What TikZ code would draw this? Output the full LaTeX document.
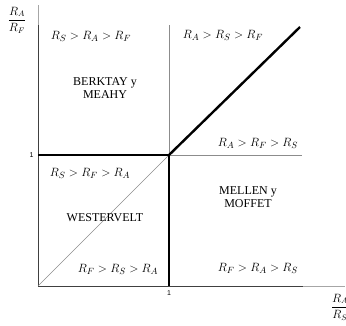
\documentclass[tikz,border=0pt]{standalone}
\usepackage{amsmath}
\usepackage{fontspec}
\setmainfont{Liberation Serif}
\setsansfont{Liberation Sans}
\usetikzlibrary{positioning, calc}
\definecolor{AxisGray}{HTML}{A6A6A6}
\definecolor{GridGray}{HTML}{8C8C8C}

\begin{document}
\begin{tikzpicture}[x=1pt, y=-1pt,
    region/.style={font=\fontsize{12.5}{14}\selectfont},
    author/.style={font=\fontsize{12}{13}\selectfont, align=center},
    tick/.style={font=\sffamily\fontsize{7}{8}\selectfont},
    axlab/.style={font=\fontsize{12}{14}\selectfont}]
    \useasboundingbox (0,0) rectangle (346,325);
    % key points
    \coordinate (O) at (38,286);
    \coordinate (C) at (169,155);
    \coordinate (L) at (38,155);
    \coordinate (B) at (169,286);
    \coordinate (T) at (169,25);
    \coordinate (R) at (302,155);
    \coordinate (D) at (300,27);
    % axes
    \draw[AxisGray, line width=0.6pt] (38,5) -- (38,25);
    \draw[AxisGray, line width=0.6pt] (303,286) -- (345,286);
    \draw[line width=1pt, black!75] (38,25) -- (O) -- (303,286);
    % thin grid lines
    \draw[GridGray, line width=0.5pt] (T) -- (C) -- (R);
    \draw[GridGray, line width=0.5pt] (O) -- (C);
    % boundaries
    \draw[line width=2.4pt] (L) -- (C) -- (B);
    \draw[line width=2.4pt] (C) -- (D);
    % ticks
    \node[tick, left=1pt of L] (ty) {1};
    \node[tick, below=1pt of B] (tx) {1};
    % axis labels
    \node[axlab] (ylab) at (17,20) {$\dfrac{R_A}{R_F}$};
    \node[axlab] (xlab) at (340,307) {$\dfrac{R_A}{R_S}$};
    % regions
    \node[region] (r1) at (91,36) {$R_S > R_A > R_F$};
    \node[region] (r2) at (223,35) {$R_A > R_S > R_F$};
    \node[region] (r3) at (258,143) {$R_A > R_F > R_S$};
    \node[region] (r4) at (90,173) {$R_S > R_F > R_A$};
    \node[region] (r5) at (118,269) {$R_F > R_S > R_A$};
    \node[region] (r6) at (258,268) {$R_F > R_A > R_S$};
    \node[author] (berk) at (105,88) {BERKTAY y\\MEAHY};
    \node[author] (west) at (105,218) {WESTERVELT};
    \node[author] (mell) at (248,197) {MELLEN y\\MOFFET};
\end{tikzpicture}
\end{document}
